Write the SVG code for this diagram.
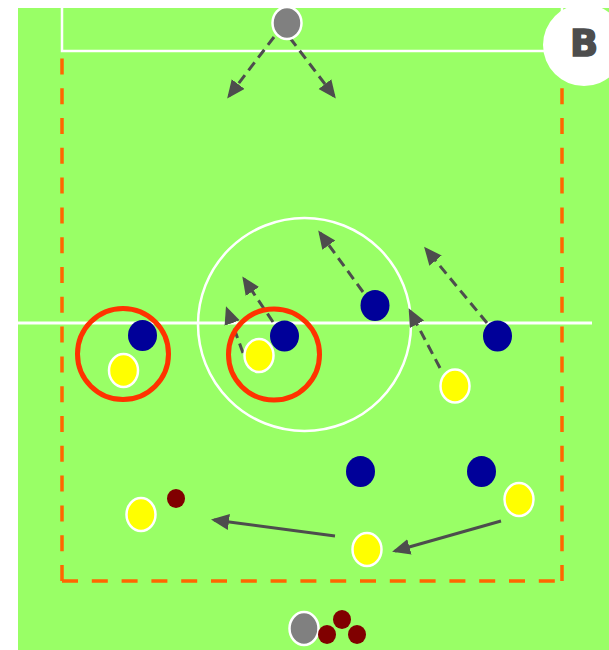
<svg xmlns="http://www.w3.org/2000/svg" width="609" height="650" viewBox="0 0 609 650">
<style>
.field{fill:#99ff66}
.wl{fill:none;stroke:#ffffff;stroke-width:2.5}
.zone{fill:none;stroke:#ff6600;stroke-width:3.5;stroke-dasharray:16 13.8}
.ring{fill:none;stroke:#ff3300;stroke-width:5}
.yel{fill:#ffff00;stroke:#ffffff;stroke-width:2.5}
.blu{fill:#000099}
.gry{fill:#808080;stroke:#ffffff;stroke-width:2.5}
.ball{fill:#800000}
.dash{fill:none;stroke:#4d4d4d;stroke-width:3;stroke-dasharray:10 6;marker-end:url(#ah)}
.solid{fill:none;stroke:#4d4d4d;stroke-width:3;marker-end:url(#ah)}
.lbl{font-family:"DejaVu Sans","Liberation Sans",sans-serif;font-weight:bold;font-size:37px;fill:#4d4d4d;stroke:#4d4d4d;stroke-width:1.5}
</style>
<defs>
<marker id="ah" markerUnits="userSpaceOnUse" markerWidth="20" markerHeight="18" refX="15" refY="8" orient="auto">
<path d="M0,0 L18,8 L0,16 z" fill="#4d4d4d"/>
</marker>
</defs>
<g id="pitch">
<rect class="field" x="18" y="8" width="591" height="642"/>
<path class="wl" d="M62,8 V51 H562 V8"/>
<line class="wl" x1="18" y1="323" x2="592" y2="323" style="stroke-width:3"/>
<circle class="wl" cx="304.5" cy="324.5" r="106.5"/>
<line class="zone" x1="62" y1="581" x2="62" y2="58"/>
<line class="zone" x1="62" y1="581" x2="562" y2="581"/>
<line class="zone" x1="562" y1="581" x2="562" y2="58"/>
</g>
<g id="label-b">
<circle cx="584" cy="45" r="41" fill="#ffffff"/>
<text class="lbl" x="584" y="56" text-anchor="middle">B</text>
</g>
<g id="connectors">
<line class="dash" x1="274" y1="37" x2="229" y2="96"/>
<line class="dash" x1="290" y1="38" x2="334" y2="96"/>
<line class="dash" x1="363" y1="292" x2="320" y2="233"/>
<line class="dash" x1="273" y1="322" x2="244" y2="279"/>
<line class="dash" x1="243" y1="353" x2="227" y2="309"/>
<line class="dash" x1="440" y1="368" x2="410" y2="311"/>
<line class="dash" x1="487" y1="323" x2="426" y2="249"/>
<line class="solid" x1="335" y1="536" x2="214" y2="520"/>
<line class="solid" x1="501" y1="521" x2="395" y2="551"/>
</g>
<g id="ring-left"><circle class="ring" cx="123" cy="354" r="45.5"/></g>
<g id="ring-right"><circle class="ring" cx="274" cy="354.5" r="45.5"/></g>
<g id="gk-top"><ellipse class="gry" cx="287" cy="23" rx="14.5" ry="16"/></g>
<g id="blue-1"><ellipse class="blu" cx="142.5" cy="335.5" rx="14.5" ry="15.5"/></g>
<g id="yellow-1"><ellipse class="yel" cx="123.5" cy="370.5" rx="14.5" ry="16.5"/></g>
<g id="blue-2"><ellipse class="blu" cx="284.5" cy="336" rx="14.5" ry="15.5"/></g>
<g id="yellow-2"><ellipse class="yel" cx="259" cy="355.5" rx="14.5" ry="16.5"/></g>
<g id="blue-3"><ellipse class="blu" cx="375" cy="305.5" rx="14.5" ry="15.5"/></g>
<g id="blue-4"><ellipse class="blu" cx="497.5" cy="336" rx="14.5" ry="15.5"/></g>
<g id="yellow-3"><ellipse class="yel" cx="455" cy="386" rx="14.5" ry="16.5"/></g>
<g id="blue-5"><ellipse class="blu" cx="360.5" cy="471.5" rx="14.5" ry="15.5"/></g>
<g id="blue-6"><ellipse class="blu" cx="481.5" cy="471.5" rx="14.5" ry="15.5"/></g>
<g id="yellow-4"><ellipse class="yel" cx="141" cy="514.5" rx="14.5" ry="16.5"/></g>
<g id="ball-1"><ellipse class="ball" cx="176" cy="498.5" rx="9" ry="9.5"/></g>
<g id="yellow-5"><ellipse class="yel" cx="367" cy="549.5" rx="14.5" ry="16.5"/></g>
<g id="yellow-6"><ellipse class="yel" cx="519" cy="499.5" rx="14.5" ry="16.5"/></g>
<g id="gk-bottom"><ellipse class="gry" cx="304" cy="628.5" rx="14.5" ry="16.5"/></g>
<g id="ball-2"><ellipse class="ball" cx="342" cy="619.5" rx="9" ry="9.5"/></g>
<g id="ball-3"><ellipse class="ball" cx="327" cy="634.5" rx="9" ry="9.5"/></g>
<g id="ball-4"><ellipse class="ball" cx="357" cy="634.5" rx="9" ry="9.5"/></g>
</svg>
